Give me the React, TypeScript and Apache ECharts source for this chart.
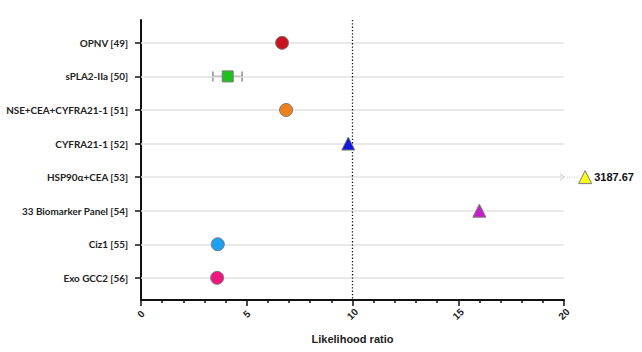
import React, { useEffect, useRef } from "react";
import * as echarts from "echarts";

const categories = [
  "OPNV [49]",
  "sPLA2-IIa [50]",
  "NSE+CEA+CYFRA21-1 [51]",
  "CYFRA21-1 [52]",
  "HSP90α+CEA [53]",
  "33 Biomarker Panel [54]",
  "Ciz1 [55]",
  "Exo GCC2 [56]",
];
const ratios = [6.67, 4.1, 6.86, 9.8, 3187.67, 16.0, 3.63, 3.6];
const errLow = [null, 3.4, null, null, null, null, null, null];
const errHigh = [null, 4.78, null, null, null, null, null, null];
const symbols = ["circle", "rect", "circle", "triangle", "triangle", "triangle", "circle", "circle"];
const colors = ["#c8141e", "#1fbf1f", "#f0801e", "#1616dc", "#ffff14", "#c81ec8", "#1ea0f0", "#f0167f"];
const xMax = 20;
const offScalePos = 21; // where off-scale values are displayed (beyond axis max)
const rowPositions = categories.map((_, i) => i + 1);

const FONT = "Lato";

export default function App() {
  const ref = useRef<HTMLDivElement>(null);
  useEffect(() => {
    if (!ref.current) return;
    document.body.style.margin = "0";
    const chart = echarts.init(ref.current, null, { renderer: "svg" });
    const points = ratios.map((v, i) => {
      const off = v > xMax;
      return {
        value: [off ? offScalePos : v, i + 1],
        symbol: symbols[i],
        symbolSize: symbols[i] === "rect" ? 11 : 13,
        itemStyle: { color: colors[i], borderColor: "#7a7a7a", borderWidth: 1, opacity: 1 },
        label: off
          ? {
              show: true,
              position: "right",
              distance: 2,
              formatter: String(v),
              fontFamily: "Liberation Sans",
              fontWeight: "bold",
              fontSize: 11,
              color: "#111",
            }
          : { show: false },
      };
    });
    const errData = errLow
      .map((lo, i) => (lo == null ? null : [lo, errHigh[i], i + 1]))
      .filter((d) => d != null);
    const offData = ratios
      .map((v, i) => (v > xMax ? [xMax, offScalePos, i + 1] : null))
      .filter((d) => d != null);

    chart.setOption({
      animation: false,
      grid: { left: 141, right: 78, top: 20, bottom: 52, containLabel: false, outerBoundsMode: "none" },
      xAxis: {
        type: "value",
        min: 0,
        max: xMax,
        interval: 5,
        name: "Likelihood ratio",
        nameLocation: "middle",
        nameGap: 33,
        nameTextStyle: { fontFamily: "Liberation Sans", fontWeight: "bold", fontSize: 11, color: "#222" },
        axisLine: { show: true, lineStyle: { color: "#111", width: 2 } },
        axisTick: { show: true, length: 6, lineStyle: { color: "#111", width: 1.5 } },
        minorTick: { show: true, splitNumber: 5, length: 3, lineStyle: { color: "#111", width: 1.5 } },
        splitLine: { show: false },
        axisLabel: {
          rotate: 45,
          margin: 14,
          align: "center",
          verticalAlign: "middle",
          fontFamily: "Liberation Sans",
          fontWeight: "bold",
          fontSize: 10,
          color: "#222",
        },
      },
      yAxis: {
        type: "value",
        inverse: true,
        min: 0.32,
        max: 8.66,
        axisLine: { show: true, lineStyle: { color: "#111", width: 2 } },
        axisTick: { show: true, length: 6, customValues: rowPositions, lineStyle: { color: "#111", width: 1.5 } },
        splitLine: { show: false },
        axisLabel: {
          customValues: rowPositions,
          margin: 13,
          formatter: (v: number) => categories[Math.round(v) - 1] ?? "",
          fontFamily: FONT,
          fontWeight: "bold",
          fontSize: 9.9,
          color: "#222",
        },
      },
      series: [
        {
          type: "line",
          data: [],
          silent: true,
          z: 1,
          markLine: {
            silent: true,
            symbol: "none",
            label: { show: false },
            lineStyle: { color: "#e2e2e2", width: 1.5, type: "solid" },
            data: rowPositions.map((r) => ({ yAxis: r })),
          },
        },
        {
          type: "line",
          data: [],
          silent: true,
          z: 2,
          markLine: {
            silent: true,
            symbol: "none",
            label: { show: false },
            lineStyle: { color: "#111", width: 1.3, type: [1.3, 2] },
            data: [{ xAxis: 10 }],
          },
        },
        {
          type: "custom",
          z: 3,
          clip: false,
          data: errData,
          renderItem: (params: any, api: any) => {
            const lo = api.coord([api.value(0), api.value(2)]);
            const hi = api.coord([api.value(1), api.value(2)]);
            const cap = 5;
            const st = { stroke: "#7a7a7a", lineWidth: 1.3, fill: "none" };
            return {
              type: "group",
              children: [
                { type: "line", shape: { x1: lo[0], y1: lo[1], x2: hi[0], y2: hi[1] }, style: st },
                { type: "line", shape: { x1: lo[0], y1: lo[1] - cap, x2: lo[0], y2: lo[1] + cap }, style: st },
                { type: "line", shape: { x1: hi[0], y1: hi[1] - cap, x2: hi[0], y2: hi[1] + cap }, style: st },
              ],
            };
          },
        },
        {
          type: "custom",
          z: 3,
          clip: false,
          data: offData,
          renderItem: (params: any, api: any) => {
            const a = api.coord([api.value(0), api.value(2)]);
            const b = api.coord([api.value(1), api.value(2)]);
            const st = { stroke: "#cfcfcf", lineWidth: 1.2, fill: "none" };
            return {
              type: "group",
              children: [
                { type: "polyline", shape: { points: [[a[0] - 4, a[1] - 3], [a[0], a[1]], [a[0] - 4, a[1] + 3]] }, style: st },
                { type: "line", shape: { x1: a[0], y1: a[1], x2: b[0] - 6, y2: b[1] }, style: { ...st, lineDash: [1, 1.5] } },
              ],
            };
          },
        },
        {
          type: "scatter",
          z: 5,
          clip: false,
          data: points,
        },
      ],
    });
    return () => chart.dispose();
  }, []);
  return <div ref={ref} style={{ width: 642, height: 352 }} />;
}
